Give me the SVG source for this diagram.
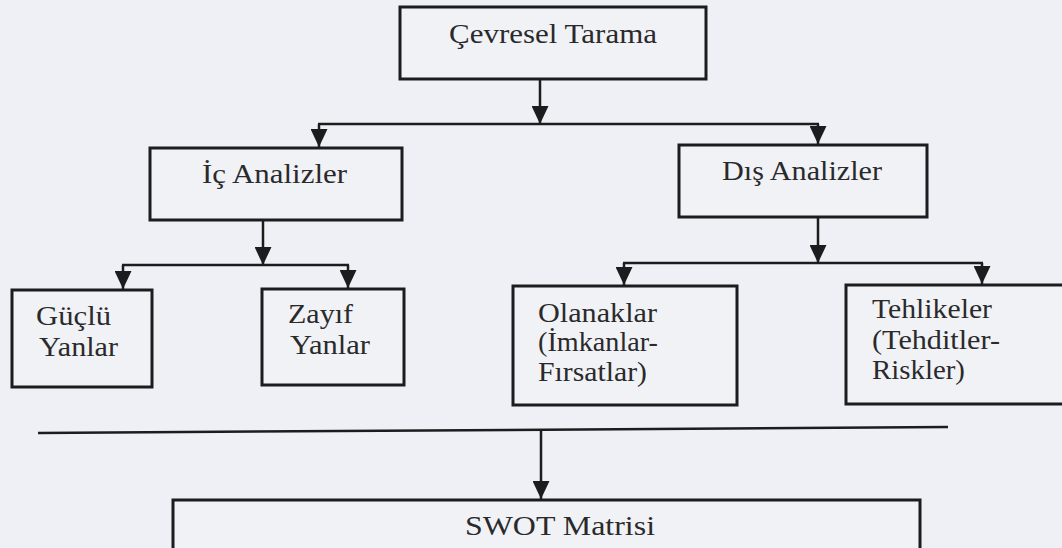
<svg xmlns="http://www.w3.org/2000/svg" width="1062" height="548" viewBox="0 0 1062 548">
<style>
.bg{fill:#eef0f5}
.box{fill:#f1f2f6;stroke:#1c1c1e;stroke-width:3}
.con{fill:none;stroke:#1c1c1e;stroke-width:2.5}
.t{font-family:"Liberation Serif","Times New Roman",serif;font-size:27px;fill:#2a2a2c}
</style>
<defs>
<marker id="ah" viewBox="0 0 18 17" refX="18" refY="8.5" markerWidth="18" markerHeight="17" markerUnits="userSpaceOnUse" orient="auto">
<path d="M0,0 L18,8.5 L0,17 z" fill="#1c1c1e"/>
</marker>
</defs>
<rect class="bg" x="0" y="0" width="1062" height="548"/>

<g id="connectors">
<line class="con" x1="540" y1="79" x2="540" y2="124" marker-end="url(#ah)"/>
<line class="con" x1="318" y1="124" x2="819" y2="124"/>
<line class="con" x1="319" y1="124" x2="319" y2="147" marker-end="url(#ah)"/>
<line class="con" x1="818" y1="124" x2="818" y2="144" marker-end="url(#ah)"/>
<line class="con" x1="263" y1="220" x2="263" y2="265" marker-end="url(#ah)"/>
<line class="con" x1="122" y1="265" x2="349" y2="265"/>
<line class="con" x1="123" y1="265" x2="123" y2="289" marker-end="url(#ah)"/>
<line class="con" x1="348" y1="265" x2="348" y2="288" marker-end="url(#ah)"/>
<line class="con" x1="818" y1="217" x2="818" y2="263" marker-end="url(#ah)"/>
<line class="con" x1="623" y1="263" x2="983" y2="263"/>
<line class="con" x1="624" y1="263" x2="624" y2="285" marker-end="url(#ah)"/>
<line class="con" x1="982" y1="263" x2="982" y2="284" marker-end="url(#ah)"/>
<line class="con" x1="38" y1="433" x2="948" y2="427"/>
<line class="con" x1="541" y1="430" x2="541" y2="499" marker-end="url(#ah)"/>
</g>

<g id="cevresel">
<rect class="box" x="400" y="7" width="306" height="72"/>
<text class="t" x="449" y="43" textLength="208" lengthAdjust="spacingAndGlyphs">Çevresel Tarama</text>
</g>
<g id="ic">
<rect class="box" x="150" y="148" width="252" height="72"/>
<text class="t" x="202" y="183" textLength="145" lengthAdjust="spacingAndGlyphs">İç Analizler</text>
</g>
<g id="dis">
<rect class="box" x="679" y="145" width="248" height="72"/>
<text class="t" x="722" y="180" textLength="160" lengthAdjust="spacingAndGlyphs">Dış Analizler</text>
</g>
<g id="guclu">
<rect class="box" x="12" y="290" width="140" height="97"/>
<text class="t" x="36" y="325" textLength="75" lengthAdjust="spacingAndGlyphs">Güçlü</text>
<text class="t" x="39" y="356" textLength="79" lengthAdjust="spacingAndGlyphs">Yanlar</text>
</g>
<g id="zayif">
<rect class="box" x="262" y="289" width="142" height="96"/>
<text class="t" x="288" y="323" textLength="65" lengthAdjust="spacingAndGlyphs">Zayıf</text>
<text class="t" x="290" y="354" textLength="80" lengthAdjust="spacingAndGlyphs">Yanlar</text>
</g>
<g id="olanaklar">
<rect class="box" x="513" y="286" width="224" height="119"/>
<text class="t" x="538" y="322" textLength="119" lengthAdjust="spacingAndGlyphs">Olanaklar</text>
<text class="t" x="538" y="351" textLength="120" lengthAdjust="spacingAndGlyphs">(İmkanlar-</text>
<text class="t" x="538" y="381" textLength="109" lengthAdjust="spacingAndGlyphs">Fırsatlar)</text>
</g>
<g id="tehlikeler">
<rect class="box" x="846" y="285" width="224" height="119"/>
<text class="t" x="872" y="318" textLength="120" lengthAdjust="spacingAndGlyphs">Tehlikeler</text>
<text class="t" x="872" y="349" textLength="128" lengthAdjust="spacingAndGlyphs">(Tehditler-</text>
<text class="t" x="872" y="379" textLength="93" lengthAdjust="spacingAndGlyphs">Riskler)</text>
</g>
<g id="swot">
<rect class="box" x="173" y="500" width="747" height="70"/>
<text class="t" x="465" y="535" textLength="190" lengthAdjust="spacingAndGlyphs">SWOT Matrisi</text>
</g>
</svg>
